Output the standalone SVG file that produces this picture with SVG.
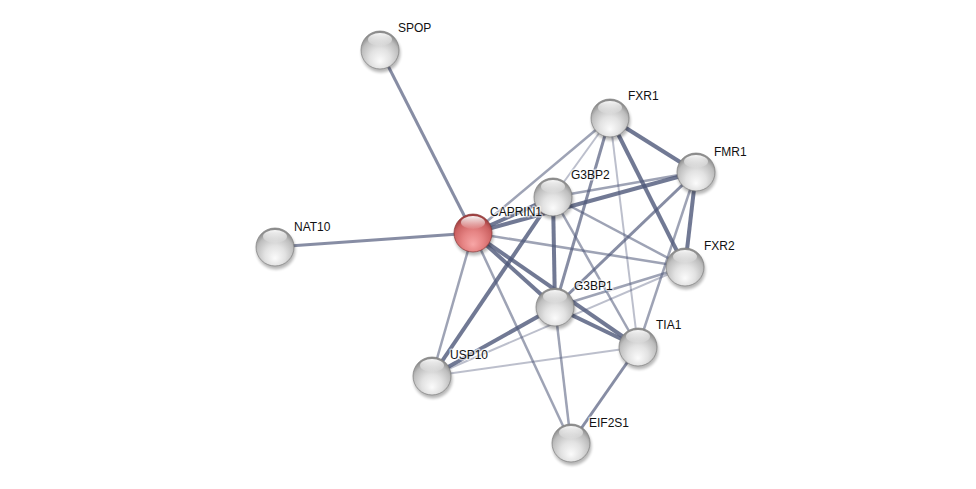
<svg xmlns="http://www.w3.org/2000/svg" width="976" height="489" viewBox="0 0 976 489">
<defs>
<radialGradient id="gGray" cx="50%" cy="65%" r="60%" fx="50%" fy="80%">
<stop offset="0%" stop-color="#fbfbfb"/>
<stop offset="45%" stop-color="#e2e2e2"/>
<stop offset="82%" stop-color="#bdbdbd"/>
<stop offset="100%" stop-color="#8e8e8e"/>
</radialGradient>
<radialGradient id="gRed" cx="50%" cy="65%" r="60%" fx="50%" fy="80%">
<stop offset="0%" stop-color="#f7a6a6"/>
<stop offset="45%" stop-color="#e68484"/>
<stop offset="82%" stop-color="#cc6262"/>
<stop offset="100%" stop-color="#a04040"/>
</radialGradient>
<linearGradient id="gHi" x1="0" y1="0" x2="0" y2="1">
<stop offset="0%" stop-color="#ffffff" stop-opacity="0.95"/>
<stop offset="100%" stop-color="#ffffff" stop-opacity="0.05"/>
</linearGradient>
<filter id="blur" x="-50%" y="-50%" width="200%" height="200%">
<feGaussianBlur stdDeviation="1.6"/>
</filter>
<g id="sphere">
<circle cx="1" cy="3" r="19.5" fill="#000" opacity="0.28" filter="url(#blur)"/>
<circle r="19" fill="url(#gGray)" stroke="#7e7e7e" stroke-width="0.7"/>
<ellipse cx="0" cy="-10.5" rx="12" ry="6.5" fill="url(#gHi)"/>
</g>
<g id="sphereRed">
<circle cx="1" cy="3" r="19.5" fill="#000" opacity="0.28" filter="url(#blur)"/>
<circle r="19" fill="url(#gRed)" stroke="#8a3636" stroke-width="0.7"/>
<ellipse cx="0" cy="-10.5" rx="12" ry="6.5" fill="url(#gHi)"/>
</g>
</defs>
<style>
.e{stroke:#4e5779;fill:none;stroke-linecap:butt}
.w1{stroke-width:2;stroke-opacity:0.38}
.w2{stroke-width:2.5;stroke-opacity:0.55}
.w3{stroke-width:3;stroke-opacity:0.68}
.w4{stroke-width:4;stroke-opacity:0.8}
.lbl{font-family:"Liberation Sans",Arial,sans-serif;font-size:12px;fill:#111;stroke:#fff;stroke-width:3;stroke-opacity:0.6;paint-order:stroke;stroke-linejoin:round}
</style>
<rect width="976" height="489" fill="#ffffff"/>
<g id="edges">
<line class="e w3" x1="380" y1="50" x2="473" y2="233"/>
<line class="e w3" x1="275" y1="247" x2="473" y2="233"/>
<line class="e w2" x1="473" y1="233" x2="610" y2="118"/>
<line class="e w4" x1="473" y1="233" x2="696" y2="172"/>
<line class="e w4" x1="473" y1="233" x2="553" y2="197"/>
<line class="e w2" x1="473" y1="233" x2="685" y2="267"/>
<line class="e w4" x1="473" y1="233" x2="555" y2="307"/>
<line class="e w4" x1="473" y1="233" x2="638" y2="347"/>
<line class="e w2" x1="473" y1="233" x2="432" y2="376"/>
<line class="e w2" x1="473" y1="233" x2="571" y2="443"/>
<line class="e w1" x1="553" y1="197" x2="610" y2="118"/>
<line class="e w2" x1="553" y1="197" x2="696" y2="172"/>
<line class="e w2" x1="553" y1="197" x2="685" y2="267"/>
<line class="e w4" x1="553" y1="197" x2="555" y2="307"/>
<line class="e w2" x1="553" y1="197" x2="638" y2="347"/>
<line class="e w4" x1="553" y1="197" x2="432" y2="376"/>
<line class="e w4" x1="610" y1="118" x2="696" y2="172"/>
<line class="e w4" x1="610" y1="118" x2="685" y2="267"/>
<line class="e w3" x1="610" y1="118" x2="555" y2="307"/>
<line class="e w1" x1="610" y1="118" x2="638" y2="347"/>
<line class="e w4" x1="696" y1="172" x2="685" y2="267"/>
<line class="e w3" x1="696" y1="172" x2="555" y2="307"/>
<line class="e w2" x1="696" y1="172" x2="638" y2="347"/>
<line class="e w2" x1="685" y1="267" x2="555" y2="307"/>
<line class="e w1" x1="685" y1="267" x2="432" y2="376"/>
<line class="e w4" x1="555" y1="307" x2="638" y2="347"/>
<line class="e w4" x1="555" y1="307" x2="432" y2="376"/>
<line class="e w2" x1="555" y1="307" x2="571" y2="443"/>
<line class="e w1" x1="638" y1="347" x2="432" y2="376"/>
<line class="e w3" x1="638" y1="347" x2="571" y2="443"/>
</g>
<g id="SPOP"><use href="#sphere" x="380" y="50"/><text class="lbl" x="398" y="32">SPOP</text></g>
<g id="NAT10"><use href="#sphere" x="275" y="247"/><text class="lbl" x="294" y="231">NAT10</text></g>
<g id="FXR1"><use href="#sphere" x="610" y="118"/><text class="lbl" x="628" y="100">FXR1</text></g>
<g id="FMR1"><use href="#sphere" x="696" y="172"/><text class="lbl" x="714" y="156">FMR1</text></g>
<g id="G3BP2"><use href="#sphere" x="553" y="197"/><text class="lbl" x="571" y="179">G3BP2</text></g>
<g id="FXR2"><use href="#sphere" x="685" y="267"/><text class="lbl" x="704" y="250">FXR2</text></g>
<g id="G3BP1"><use href="#sphere" x="555" y="307"/><text class="lbl" x="574" y="290">G3BP1</text></g>
<g id="TIA1"><use href="#sphere" x="638" y="347"/><text class="lbl" x="656" y="329">TIA1</text></g>
<g id="USP10"><use href="#sphere" x="432" y="376"/><text class="lbl" x="450" y="359">USP10</text></g>
<g id="EIF2S1"><use href="#sphere" x="571" y="443"/><text class="lbl" x="589" y="427">EIF2S1</text></g>
<g id="CAPRIN1"><use href="#sphereRed" x="473" y="233"/><text class="lbl" x="490" y="216">CAPRIN1</text></g>
</svg>
